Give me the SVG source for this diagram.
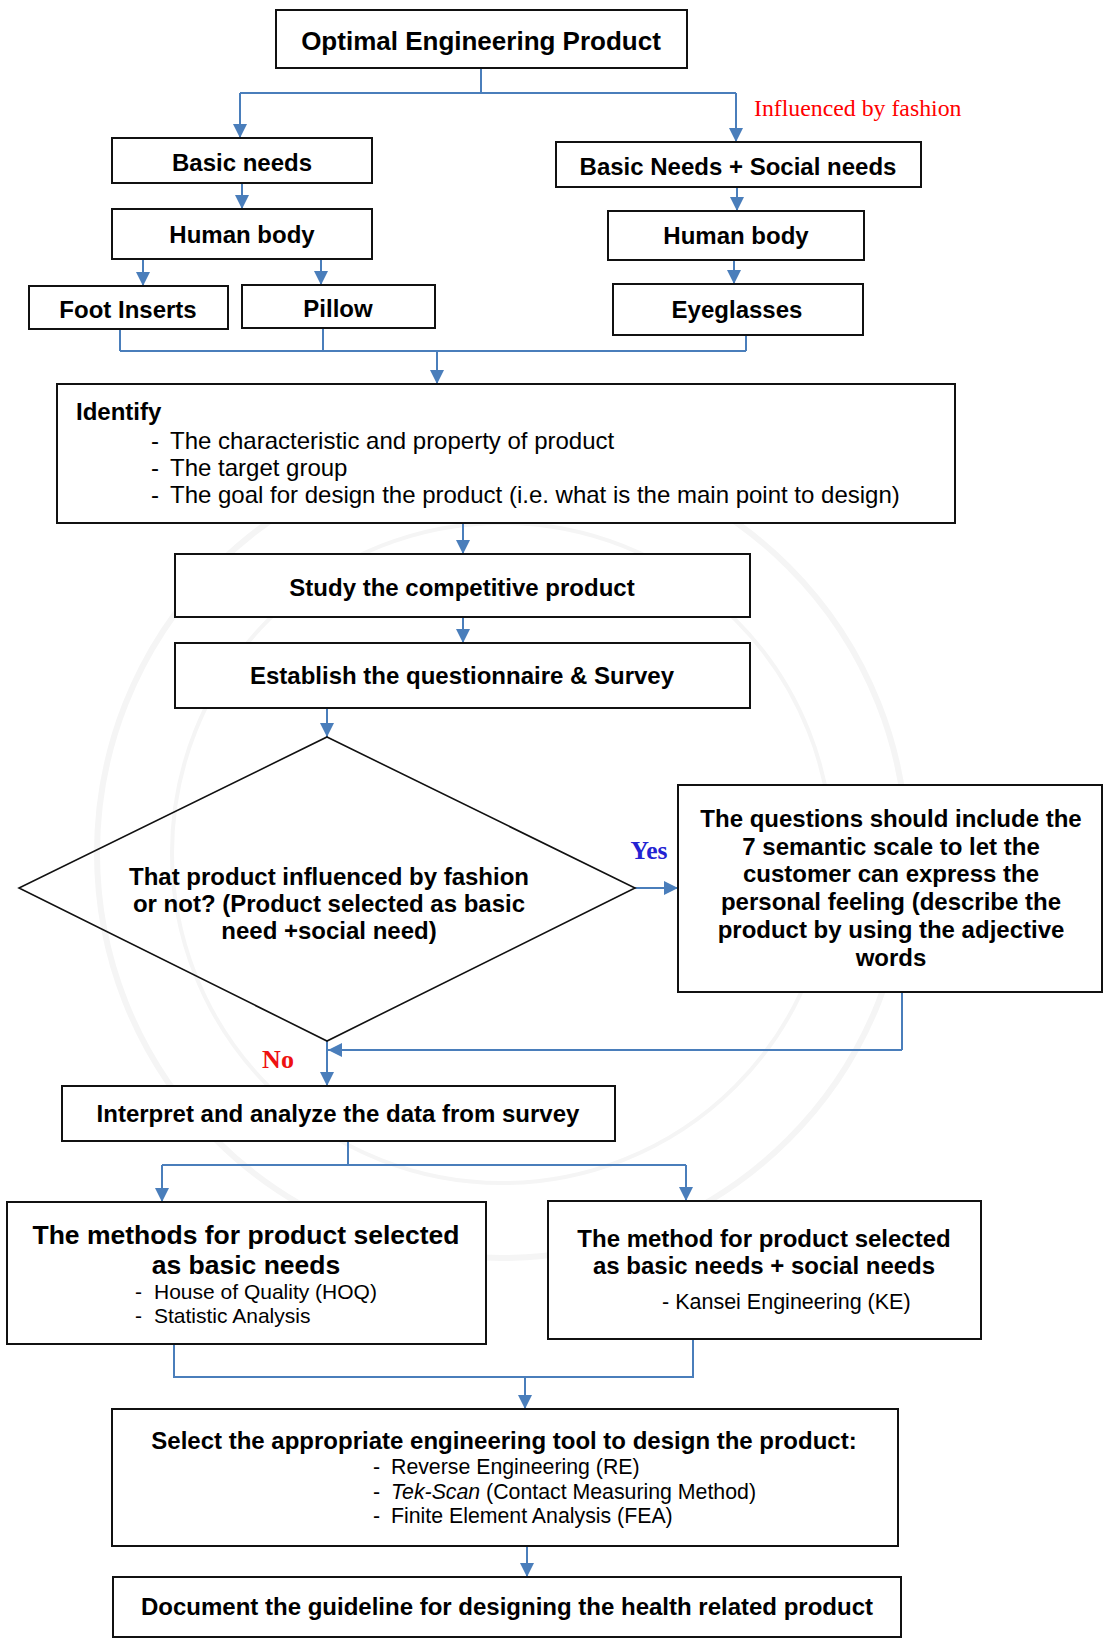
<svg xmlns="http://www.w3.org/2000/svg" width="1105" height="1641" viewBox="0 0 1105 1641">
<defs>
<style>
.box{fill:#fff;stroke:#111;stroke-width:2}
.dia{fill:none;stroke:#111;stroke-width:1.6}
.b{font-family:"Liberation Sans",Arial,sans-serif;font-weight:bold;font-size:24px;fill:#000}
.r{font-family:"Liberation Sans",Arial,sans-serif;font-size:24px;fill:#000}
.c{text-anchor:middle}
.ln{fill:none;stroke:#4a7ebb;stroke-width:2}
.ar{fill:none;stroke:#4a7ebb;stroke-width:2;marker-end:url(#ah)}
.wm{fill:none;stroke:#f5f5f5}
</style>
<marker id="ah" markerUnits="userSpaceOnUse" markerWidth="14" markerHeight="14" refX="14" refY="7" orient="auto" viewBox="0 0 14 14">
<path d="M0,0 L14,7 L0,14 z" fill="#4a7ebb"/>
</marker>
</defs>
<rect width="1105" height="1641" fill="#fff"/>
<g id="watermark">
<circle class="wm" cx="502" cy="853" r="405" stroke-width="6"/>
<circle class="wm" cx="502" cy="853" r="330" stroke-width="4"/>
</g>
<g id="connectors">
<path class="ln" d="M481,68 V93 M240,93 H736"/>
<path class="ar" d="M240,93 V138"/>
<path class="ar" d="M736,93 V142"/>
<path class="ar" d="M242,183 V209"/>
<path class="ar" d="M143,259 V286"/>
<path class="ar" d="M321,259 V285"/>
<path class="ar" d="M737,187 V211"/>
<path class="ar" d="M734,260 V284"/>
<path class="ln" d="M120,329 V351 M323,328 V351 M746,335 V351 M120,351 H746"/>
<path class="ar" d="M437,351 V384"/>
<path class="ar" d="M463,523 V554"/>
<path class="ar" d="M463,617 V643"/>
<path class="ar" d="M327,708 V737"/>
<path class="ar" d="M635,888 H678"/>
<path class="ln" d="M902,992 V1050"/>
<path class="ar" d="M902,1050 H328"/>
<path class="ar" d="M327,1041 V1086"/>
<path class="ln" d="M348,1141 V1165 M162,1165 H686"/>
<path class="ar" d="M162,1165 V1202"/>
<path class="ar" d="M686,1165 V1201"/>
<path class="ln" d="M174,1344 V1377 H693 V1339"/>
<path class="ar" d="M525,1377 V1409"/>
<path class="ar" d="M527,1546 V1577"/>
</g>
<g id="n_top">
<rect class="box" x="276" y="10" width="411" height="58"/>
<text class="b c" x="481" y="50" style="font-size:26px">Optimal Engineering Product</text>
</g>
<g id="l_fashion">
<text x="754" y="116" style="font-family:'Liberation Serif','Times New Roman',serif;font-size:23.8px;fill:#ff0000">Influenced by fashion</text>
</g>
<g id="n_basic">
<rect class="box" x="112" y="138" width="260" height="45"/>
<text class="b c" x="242" y="171">Basic needs</text>
</g>
<g id="n_basic_social">
<rect class="box" x="556" y="142" width="365" height="45"/>
<text class="b c" x="738" y="175">Basic Needs + Social needs</text>
</g>
<g id="n_body_l">
<rect class="box" x="112" y="209" width="260" height="50"/>
<text class="b c" x="242" y="243">Human body</text>
</g>
<g id="n_body_r">
<rect class="box" x="608" y="211" width="256" height="49"/>
<text class="b c" x="736" y="244">Human body</text>
</g>
<g id="n_foot">
<rect class="box" x="29" y="286" width="199" height="43"/>
<text class="b c" x="128" y="318">Foot Inserts</text>
</g>
<g id="n_pillow">
<rect class="box" x="242" y="285" width="193" height="43"/>
<text class="b c" x="338" y="317">Pillow</text>
</g>
<g id="n_eye">
<rect class="box" x="613" y="284" width="250" height="51"/>
<text class="b c" x="737" y="318">Eyeglasses</text>
</g>
<g id="n_identify">
<rect class="box" x="57" y="384" width="898" height="139"/>
<text class="b" x="76" y="420">Identify</text>
<text class="r" x="151" y="449">-</text>
<text class="r" x="170" y="449">The characteristic and property of product</text>
<text class="r" x="151" y="476">-</text>
<text class="r" x="170" y="476">The target group</text>
<text class="r" x="151" y="503">-</text>
<text class="r" x="170" y="503">The goal for design the product (i.e. what is the main point to design)</text>
</g>
<g id="n_study">
<rect class="box" x="175" y="554" width="575" height="63"/>
<text class="b c" x="462" y="596">Study the competitive product</text>
</g>
<g id="n_establish">
<rect class="box" x="175" y="643" width="575" height="65"/>
<text class="b c" x="462" y="684">Establish the questionnaire &amp; Survey</text>
</g>
<g id="n_decision">
<polygon class="dia" points="327,737 635,888 327,1041 19,888"/>
<text class="b c" x="329" y="885">That product influenced by fashion</text>
<text class="b c" x="329" y="912">or not? (Product selected as basic</text>
<text class="b c" x="329" y="939">need +social need)</text>
</g>
<g id="l_yes">
<text x="649" y="859" style="font-family:'Liberation Serif','Times New Roman',serif;font-weight:bold;font-size:25.5px;fill:#2323d2;text-anchor:middle">Yes</text>
</g>
<g id="l_no">
<text x="278" y="1068" style="font-family:'Liberation Serif','Times New Roman',serif;font-weight:bold;font-size:26px;fill:#ee1111;text-anchor:middle">No</text>
</g>
<g id="n_questions">
<rect class="box" x="678" y="785" width="424" height="207"/>
<text class="b c" x="891" y="827">The questions should include the</text>
<text class="b c" x="891" y="855">7 semantic scale to let the</text>
<text class="b c" x="891" y="882">customer can express the</text>
<text class="b c" x="891" y="910">personal feeling (describe the</text>
<text class="b c" x="891" y="938">product by using the adjective</text>
<text class="b c" x="891" y="966">words</text>
</g>
<g id="n_interpret">
<rect class="box" x="62" y="1086" width="553" height="55"/>
<text class="b c" x="338" y="1122">Interpret and analyze the data from survey</text>
</g>
<g id="n_methods_basic">
<rect class="box" x="7" y="1202" width="479" height="142"/>
<text class="b c" x="246" y="1244" style="font-size:26.5px">The methods for product selected</text>
<text class="b c" x="246" y="1274" style="font-size:26.5px">as basic needs</text>
<text class="r" x="135" y="1299" style="font-size:21px">-</text>
<text class="r" x="154" y="1299" style="font-size:21px">House of Quality (HOQ)</text>
<text class="r" x="135" y="1323" style="font-size:21px">-</text>
<text class="r" x="154" y="1323" style="font-size:21px">Statistic Analysis</text>
</g>
<g id="n_method_social">
<rect class="box" x="548" y="1201" width="433" height="138"/>
<text class="b c" x="764" y="1247">The method for product selected</text>
<text class="b c" x="764" y="1274">as basic needs + social needs</text>
<text class="r" x="662" y="1309" style="font-size:21.5px">- Kansei Engineering (KE)</text>
</g>
<g id="n_select">
<rect class="box" x="112" y="1409" width="786" height="137"/>
<text class="b c" x="504" y="1449">Select the appropriate engineering tool to design the product:</text>
<text class="r" x="373" y="1474" style="font-size:21.3px">-</text>
<text class="r" x="391" y="1474" style="font-size:21.3px">Reverse Engineering (RE)</text>
<text class="r" x="373" y="1499" style="font-size:21.3px">-</text>
<text class="r" x="391" y="1499" style="font-size:21.3px"><tspan font-style="italic">Tek-Scan</tspan> (Contact Measuring Method)</text>
<text class="r" x="373" y="1523" style="font-size:21.3px">-</text>
<text class="r" x="391" y="1523" style="font-size:21.3px">Finite Element Analysis (FEA)</text>
</g>
<g id="n_document">
<rect class="box" x="113" y="1577" width="788" height="60"/>
<text class="b c" x="507" y="1615">Document the guideline for designing the health related product</text>
</g>
</svg>
